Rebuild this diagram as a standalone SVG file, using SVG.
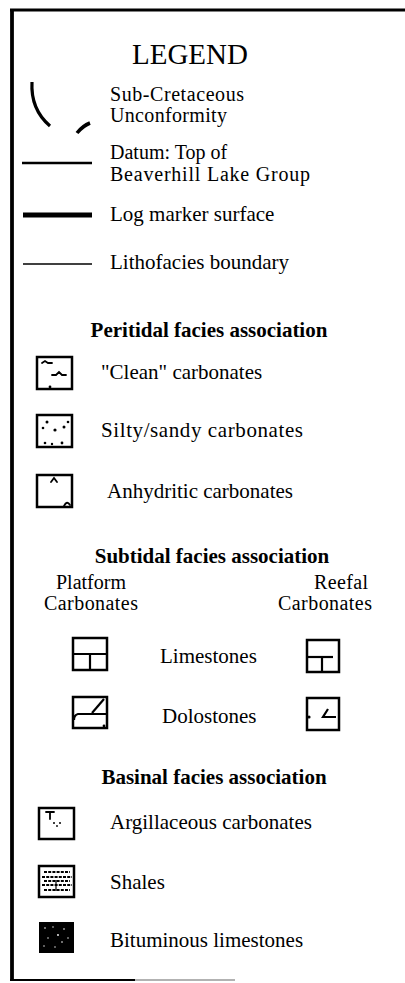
<svg xmlns="http://www.w3.org/2000/svg" width="405" height="983" viewBox="0 0 405 983">
<style>
text{font-family:"Liberation Serif","Times New Roman",serif;fill:#000;font-size:21px}
.title{font-size:29px}
.head{font-weight:bold}
.mid{text-anchor:middle}
.tight{font-size:20px}
.box{fill:#fff;stroke:#000;stroke-width:2.5}
.ln{stroke:#000;fill:none;stroke-linecap:butt}
.pat{stroke:#000;fill:none;stroke-width:1.8;stroke-linecap:round}
</style>
<rect width="405" height="983" fill="#fff"/>
<g id="frame">
<line class="ln" x1="10" y1="10" x2="405" y2="10" stroke-width="3"/>
<line class="ln" x1="12" y1="9" x2="12" y2="981" stroke-width="3.8"/>
<line class="ln" x1="10" y1="980" x2="135" y2="980" stroke-width="2"/>
<line x1="135" y1="980" x2="235" y2="980" stroke="#999" stroke-width="1.5"/>
</g>
<text id="title" class="title mid" x="190" y="64">LEGEND</text>
<g id="connectors">
<path id="unconformity-arc" class="ln" stroke-width="3.2" d="M32,82 C31,100 36,114 50,126"/>
<path id="unconformity-dash" class="ln" stroke-width="3.6" d="M77,133 C81,128 85,125 90,123"/>
<line id="datum-line" class="ln" x1="22" y1="163" x2="92" y2="163" stroke-width="2.6"/>
<line id="log-marker-line" class="ln" x1="23" y1="215" x2="92" y2="215" stroke-width="5"/>
<line id="lithofacies-line" class="ln" x1="23" y1="264" x2="92" y2="264" stroke-width="1.6"/>
</g>
<g id="line-labels">
<text class="tight" x="110" y="101" textLength="134">Sub-Cretaceous</text>
<text class="tight" x="110" y="122" textLength="117">Unconformity</text>
<text class="tight" x="110" y="159">Datum: Top of</text>
<text class="tight" x="110" y="181" textLength="200">Beaverhill Lake Group</text>
<text x="110" y="221">Log marker surface</text>
<text x="110" y="269">Lithofacies boundary</text>
</g>
<text id="peritidal-head" class="head mid" x="209" y="337">Peritidal facies association</text>
<g id="clean">
<rect class="box" x="37" y="357" width="35" height="32"/>
<path class="pat" d="M42,363 L45,361 L48,363 L52,363"/>
<path class="pat" d="M52,375 L56,375 L59,372 L62,375 L66,375"/>
<circle cx="50" cy="387" r="1.4"/>
<text x="101" y="379">"Clean" carbonates</text>
</g>
<g id="silty">
<rect class="box" x="37" y="415" width="35" height="32"/>
<circle cx="47" cy="422" r="1.5"/><circle cx="43" cy="428" r="1.3"/><circle cx="55" cy="430" r="1.6"/><circle cx="64" cy="427" r="1.5"/><circle cx="68" cy="422" r="1.3"/><circle cx="45" cy="443" r="1.3"/><circle cx="52" cy="444" r="1.2"/><circle cx="62" cy="443" r="1.4"/>
<text x="101" y="437" textLength="202">Silty/sandy carbonates</text>
</g>
<g id="anhydritic">
<rect class="box" x="37" y="475" width="35" height="32"/>
<path class="pat" d="M51,482 L54,478 L57,482"/>
<path class="pat" d="M64,506 Q67,500 70,505"/>
<text x="107" y="498">Anhydritic carbonates</text>
</g>
<text id="subtidal-head" class="head mid" x="212" y="563">Subtidal facies association</text>
<text class="mid tight" x="91" y="589">Platform</text>
<text class="mid tight" x="91" y="610" textLength="94">Carbonates</text>
<text class="tight" x="314" y="589" textLength="54">Reefal</text>
<text class="tight" x="278" y="610" textLength="94">Carbonates</text>
<g id="limestone-platform">
<rect class="box" x="73" y="638" width="34" height="32"/>
<line class="ln" stroke-width="2.2" x1="73" y1="654" x2="107" y2="654"/>
<line class="ln" stroke-width="2.2" x1="90" y1="654" x2="90" y2="670"/>
</g>
<text id="limestones" x="160" y="663">Limestones</text>
<g id="limestone-reefal">
<rect class="box" x="307" y="640" width="32" height="32"/>
<line class="ln" stroke-width="2.2" x1="307" y1="657" x2="333" y2="657"/>
<line class="ln" stroke-width="2.2" x1="322" y1="657" x2="322" y2="672"/>
</g>
<g id="dolostone-platform">
<rect class="box" x="73" y="697" width="34" height="31"/>
<path class="ln" stroke-width="2.2" d="M107,714 L78,714 Q74,715 74,720"/>
<line class="ln" stroke-width="2.2" x1="92" y1="713" x2="104" y2="699"/>
<circle cx="104" cy="726" r="1.4"/>
</g>
<text id="dolostones" x="162" y="723">Dolostones</text>
<g id="dolostone-reefal">
<rect class="box" x="307" y="698" width="32" height="32"/>
<path class="ln" stroke-width="2.2" d="M328,709 L323,717 L336,717"/>
<circle cx="309" cy="717" r="1.6"/>
</g>
<text id="basinal-head" class="head mid" x="214" y="784">Basinal facies association</text>
<g id="argillaceous">
<rect class="box" x="39" y="808" width="35" height="31"/>
<path class="pat" d="M46,812 L54,812 M50,812 L50,819"/>
<circle cx="54" cy="823" r="1"/><circle cx="60" cy="823" r="1"/><circle cx="57" cy="826" r="0.9"/>
<text x="110" y="829">Argillaceous carbonates</text>
</g>
<g id="shales">
<rect class="box" x="39" y="866" width="35" height="31"/>
<path class="ln" stroke-width="1.8" stroke-dasharray="3 1.2" d="M44,872 L70,872 M42,877 L72,877 M44,881 L70,881 M42,885 L72,885 M44,890 L70,890"/>
<line class="ln" stroke-width="1.2" x1="56" y1="880" x2="56" y2="891"/>
<text x="110" y="889">Shales</text>
</g>
<g id="bituminous">
<rect x="39" y="922" width="35" height="31" fill="#000"/>
<circle cx="45" cy="928" r="0.8" fill="#fff"/><circle cx="53" cy="927" r="0.7" fill="#fff"/><circle cx="64" cy="929" r="0.8" fill="#fff"/><circle cx="58" cy="935" r="0.9" fill="#fff"/><circle cx="48" cy="938" r="0.7" fill="#fff"/><circle cx="62" cy="942" r="0.8" fill="#fff"/><circle cx="44" cy="946" r="0.7" fill="#fff"/><circle cx="68" cy="938" r="0.7" fill="#fff"/><circle cx="55" cy="947" r="0.7" fill="#fff"/>
<text x="110" y="947">Bituminous limestones</text>
</g>
</svg>
